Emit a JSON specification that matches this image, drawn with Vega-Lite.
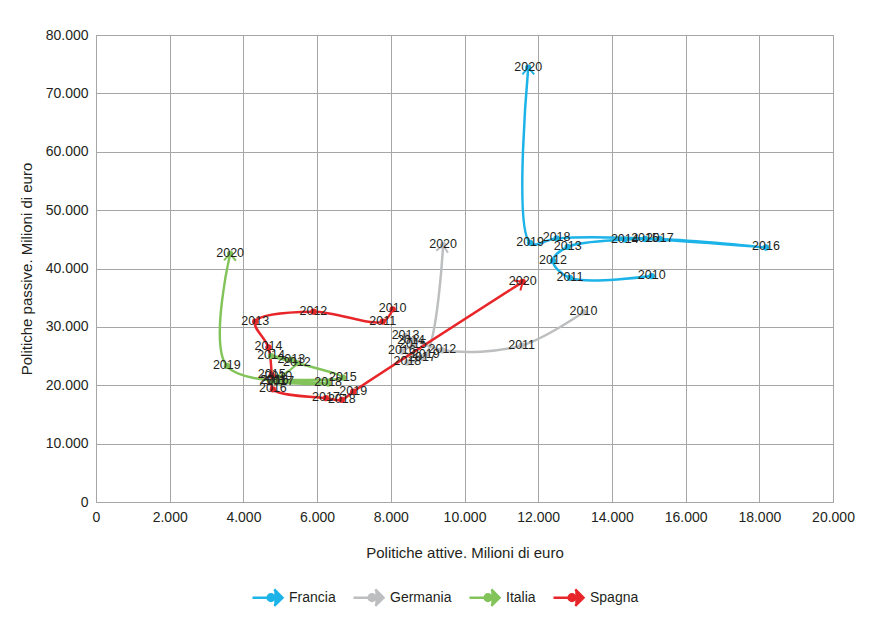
{
  "$schema": "https://vega.github.io/schema/vega-lite/v6.json",
  "width": 737,
  "height": 467,
  "autosize": {"type": "none"},
  "padding": {"left": 96, "top": 35, "right": 36, "bottom": 119},
  "background": "white",
  "config": {
    "locale": {"number": {"decimal": ",", "thousands": ".", "grouping": [3], "currency": ["€", ""]}},
    "font": "Liberation Sans, Arial, sans-serif",
    "view": {"stroke": "#a6a6a6", "strokeWidth": 1},
    "axis": {
      "labelFont": "Liberation Sans, Arial, sans-serif",
      "titleFont": "Liberation Sans, Arial, sans-serif",
      "labelFontSize": 14,
      "titleFontSize": 15,
      "titleFontWeight": "normal",
      "labelColor": "#231f20",
      "titleColor": "#231f20",
      "gridColor": "#a6a6a6",
      "gridOpacity": 1,
      "gridWidth": 1,
      "domain": false,
      "ticks": false
    }
  },
  "data": {
    "values": [
      {"paese": "Francia", "anno": 2010, "attive": 15080, "passive": 38700},
      {"paese": "Francia", "anno": 2011, "attive": 12860, "passive": 38400},
      {"paese": "Francia", "anno": 2012, "attive": 12400, "passive": 41300},
      {"paese": "Francia", "anno": 2013, "attive": 12800, "passive": 43700},
      {"paese": "Francia", "anno": 2014, "attive": 14350, "passive": 44950},
      {"paese": "Francia", "anno": 2015, "attive": 14900, "passive": 45050},
      {"paese": "Francia", "anno": 2016, "attive": 18180, "passive": 43600},
      {"paese": "Francia", "anno": 2017, "attive": 15300, "passive": 45050},
      {"paese": "Francia", "anno": 2018, "attive": 12500, "passive": 45150},
      {"paese": "Francia", "anno": 2019, "attive": 11780, "passive": 44400},
      {"paese": "Francia", "anno": 2020, "attive": 11730, "passive": 74400},
      {"paese": "Germania", "anno": 2010, "attive": 13230, "passive": 32500},
      {"paese": "Germania", "anno": 2011, "attive": 11550, "passive": 26800},
      {"paese": "Germania", "anno": 2012, "attive": 9400, "passive": 26000},
      {"paese": "Germania", "anno": 2013, "attive": 8400, "passive": 28400},
      {"paese": "Germania", "anno": 2014, "attive": 8550, "passive": 27600},
      {"paese": "Germania", "anno": 2015, "attive": 8600, "passive": 26900},
      {"paese": "Germania", "anno": 2016, "attive": 8300, "passive": 25800},
      {"paese": "Germania", "anno": 2017, "attive": 8850, "passive": 24700},
      {"paese": "Germania", "anno": 2018, "attive": 8450, "passive": 23900},
      {"paese": "Germania", "anno": 2019, "attive": 8950, "passive": 25200},
      {"paese": "Germania", "anno": 2020, "attive": 9420, "passive": 44000},
      {"paese": "Italia", "anno": 2010, "attive": 4950, "passive": 21400},
      {"paese": "Italia", "anno": 2011, "attive": 4800, "passive": 20700},
      {"paese": "Italia", "anno": 2012, "attive": 5450, "passive": 23800},
      {"paese": "Italia", "anno": 2013, "attive": 5300, "passive": 24400},
      {"paese": "Italia", "anno": 2014, "attive": 4750, "passive": 25000},
      {"paese": "Italia", "anno": 2015, "attive": 6700, "passive": 21300},
      {"paese": "Italia", "anno": 2016, "attive": 4850, "passive": 20800},
      {"paese": "Italia", "anno": 2017, "attive": 5000, "passive": 20500},
      {"paese": "Italia", "anno": 2018, "attive": 6300, "passive": 20300},
      {"paese": "Italia", "anno": 2019, "attive": 3550, "passive": 23300},
      {"paese": "Italia", "anno": 2020, "attive": 3640, "passive": 42500},
      {"paese": "Spagna", "anno": 2010, "attive": 8050, "passive": 33000},
      {"paese": "Spagna", "anno": 2011, "attive": 7780, "passive": 30900},
      {"paese": "Spagna", "anno": 2012, "attive": 5900, "passive": 32600},
      {"paese": "Spagna", "anno": 2013, "attive": 4320, "passive": 30900},
      {"paese": "Spagna", "anno": 2014, "attive": 4680, "passive": 26500},
      {"paese": "Spagna", "anno": 2015, "attive": 4770, "passive": 21700},
      {"paese": "Spagna", "anno": 2016, "attive": 4800, "passive": 19300},
      {"paese": "Spagna", "anno": 2017, "attive": 6240, "passive": 17800},
      {"paese": "Spagna", "anno": 2018, "attive": 6670, "passive": 17500},
      {"paese": "Spagna", "anno": 2019, "attive": 6980, "passive": 18900},
      {"paese": "Spagna", "anno": 2020, "attive": 11580, "passive": 37700}
    ]
  },
  "encoding": {
    "x": {
      "field": "attive", "type": "quantitative",
      "scale": {"domain": [0, 20000], "nice": false},
      "axis": {"title": "Politiche attive. Milioni di euro", "values": [0, 2000, 4000, 6000, 8000, 10000, 12000, 14000, 16000, 18000, 20000], "format": ",d", "labelPadding": 8, "titlePadding": 21, "labelFlush": false}
    },
    "y": {
      "field": "passive", "type": "quantitative",
      "scale": {"domain": [0, 80000], "nice": false},
      "axis": {"title": "Politiche passive. Milioni di euro", "values": [0, 10000, 20000, 30000, 40000, 50000, 60000, 70000, 80000], "format": ",d", "labelPadding": 8, "titlePadding": 11, "labelFlush": false}
    }
  },
  "layer": [
    {
      "mark": {"type": "line", "interpolate": "catmull-rom", "strokeWidth": 2.5},
      "encoding": {
        "order": {"field": "anno", "type": "quantitative"},
        "color": {
          "field": "paese", "type": "nominal",
          "scale": {"domain": ["Francia", "Germania", "Italia", "Spagna"], "range": ["#1cb3e8", "#bcbec0", "#82c45a", "#e8262a"]},
          "legend": {
            "title": null,
            "orient": "none",
            "legendX": 155,
            "legendY": 546,
            "direction": "horizontal",
            "symbolType": "M -1 0 L 1 0 M 0.45 -0.55 L 1 0 L 0.45 0.55 M 0.45 0 A 0.22 0.22 0 1 1 0.01 0 A 0.22 0.22 0 1 1 0.45 0",
            "symbolSize": 900,
            "symbolStrokeWidth": 2.5,
            "labelFontSize": 14,
            "labelColor": "#231f20",
            "labelFont": "Liberation Sans, Arial, sans-serif",
            "labelOffset": 5,
            "columnPadding": 12
          }
        }
      }
    },
    {
      "mark": {"type": "point", "filled": true, "size": 40, "opacity": 1},
      "encoding": {
        "color": {"field": "paese", "type": "nominal", "legend": null}
      }
    },
    {
      "transform": [
        {"window": [{"op": "lag", "field": "attive", "as": "pa"}, {"op": "lag", "field": "passive", "as": "pp"}], "sort": [{"field": "anno"}], "groupby": ["paese"]},
        {"filter": "datum.anno == 2020"},
        {"calculate": "atan2((datum.attive - datum.pa) * 737 / 20000, (datum.passive - datum.pp) * 467 / 80000) * 180 / PI", "as": "ang"}
      ],
      "mark": {"type": "point", "shape": "M -0.8 0.9 L 0 0 L 0.8 0.9", "filled": false, "size": 220, "strokeWidth": 2, "opacity": 1},
      "encoding": {
        "angle": {"field": "ang", "type": "quantitative", "scale": null},
        "color": {"field": "paese", "type": "nominal", "legend": null}
      }
    },
    {
      "mark": {"type": "text", "fontSize": 12.5, "font": "Liberation Sans, Arial, sans-serif", "color": "#231f20", "baseline": "middle", "align": "center", "dy": -1},
      "encoding": {
        "text": {"field": "anno", "type": "nominal"}
      }
    }
  ]
}
